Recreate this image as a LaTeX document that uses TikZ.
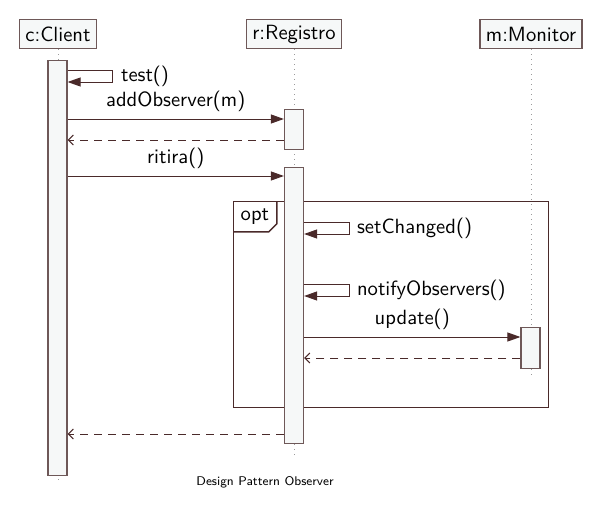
\documentclass[tikz,border=0pt]{standalone}
\usetikzlibrary{positioning, arrows.meta}
\definecolor{umlLine}{HTML}{4A2A2A}
\definecolor{umlBorder}{HTML}{6E5858}
\definecolor{umlFill}{HTML}{F6F8F8}
\definecolor{umlLife}{HTML}{9A9A9A}

\tikzset{
  inst/.style={draw=umlBorder, fill=umlFill, line width=0.6pt, minimum height=14.5pt, inner xsep=3pt, inner ysep=1pt},
  act/.style={draw=umlBorder, fill=umlFill, line width=0.6pt, minimum width=9.5pt, anchor=north, inner sep=0pt},
  life/.style={draw=umlLife, dotted, line width=0.5pt},
  call/.style={draw=umlLine, line width=0.5pt, -{Triangle[length=6.5pt, width=4.5pt]}},
  reply/.style={draw=umlLine, line width=0.5pt, dash pattern=on 4pt off 3pt, -{Straight Barb[length=2.5pt, width=5pt]}},
  optframe/.style={draw=umlLine, line width=0.7pt}
}

\begin{document}
\begin{tikzpicture}[x=0.5pt, y=-0.5pt, font=\sffamily\fontsize{10.3}{12.4}\selectfont, every node/.style={align=center}]
  \useasboundingbox (0,0) rectangle (600,514);
  % instances
  \node[inst] (client) at (58,34) {c:Client};
  \node[inst] (registro) at (294,34) {r:Registro};
  \node[inst] (monitor) at (531,34) {m:Monitor};
  \coordinate (client end) at (58,484);
  \coordinate (registro end) at (294,456);
  \coordinate (monitor end) at (531,378);
  % lifelines
  \draw[life] (client.south) -- (client end);
  \draw[life] (registro.south) -- (registro end);
  \draw[life] (monitor.south) -- (monitor end);
  % opt fragment
  \node[optframe, minimum width=157.5pt, minimum height=103pt, anchor=north west, inner sep=0pt] (opt) at (233,201) {};
  \node[anchor=north west, minimum width=21.5pt, minimum height=15pt, inner sep=1pt] (opt tag) at (opt.north west) {opt};
  \draw[optframe] (opt tag.south west) -- ([xshift=-4pt]opt tag.south east) -- ([yshift=4pt]opt tag.south east) -- (opt tag.north east);
  % activations
  \node[act, minimum height=207.5pt] (client act) at (57.5,60) {};
  \node[act, minimum height=20pt] (registro act1) at (294,109) {};
  \node[act, minimum height=138pt] (registro act2) at (294,167) {};
  \node[act, minimum height=20.5pt] (monitor act) at (530.5,327) {};
  % messages
  \draw[call] (client act.east |- 0,70) -- ++(45,0) -- ++(0,12) -- (client act.east |- 0,82);
  \node[anchor=west] (test) at (114,76) {test()};
  \draw[call] (client act.east |- 0,119) -- (registro act1.west |- 0,119) node[midway, above] {addObserver(m)};
  \draw[reply] (registro act1.west |- 0,140) -- (client act.east |- 0,140);
  \draw[call] (client act.east |- 0,176) -- (registro act2.west |- 0,176) node[midway, above] {ritira()};
  \draw[call] (registro act2.east |- 0,222) -- ++(45,0) -- ++(0,12) -- (registro act2.east |- 0,234);
  \node[anchor=west] (set changed) at (350,228) {setChanged()};
  \draw[call] (registro act2.east |- 0,284) -- ++(45,0) -- ++(0,12) -- (registro act2.east |- 0,296);
  \node[anchor=west] (notify) at (350,290) {notifyObservers()};
  \draw[call] (registro act2.east |- 0,337) -- (monitor act.west |- 0,337) node[midway, above] {update()};
  \draw[reply] (monitor act.west |- 0,358) -- (registro act2.east |- 0,358);
  \draw[reply] (registro act2.west |- 0,434) -- (client act.east |- 0,434);
  % caption
  \node[font=\sffamily\fontsize{6.3}{7.5}\selectfont] (caption) at (265,482) {Design Pattern Observer};
\end{tikzpicture}
\end{document}
